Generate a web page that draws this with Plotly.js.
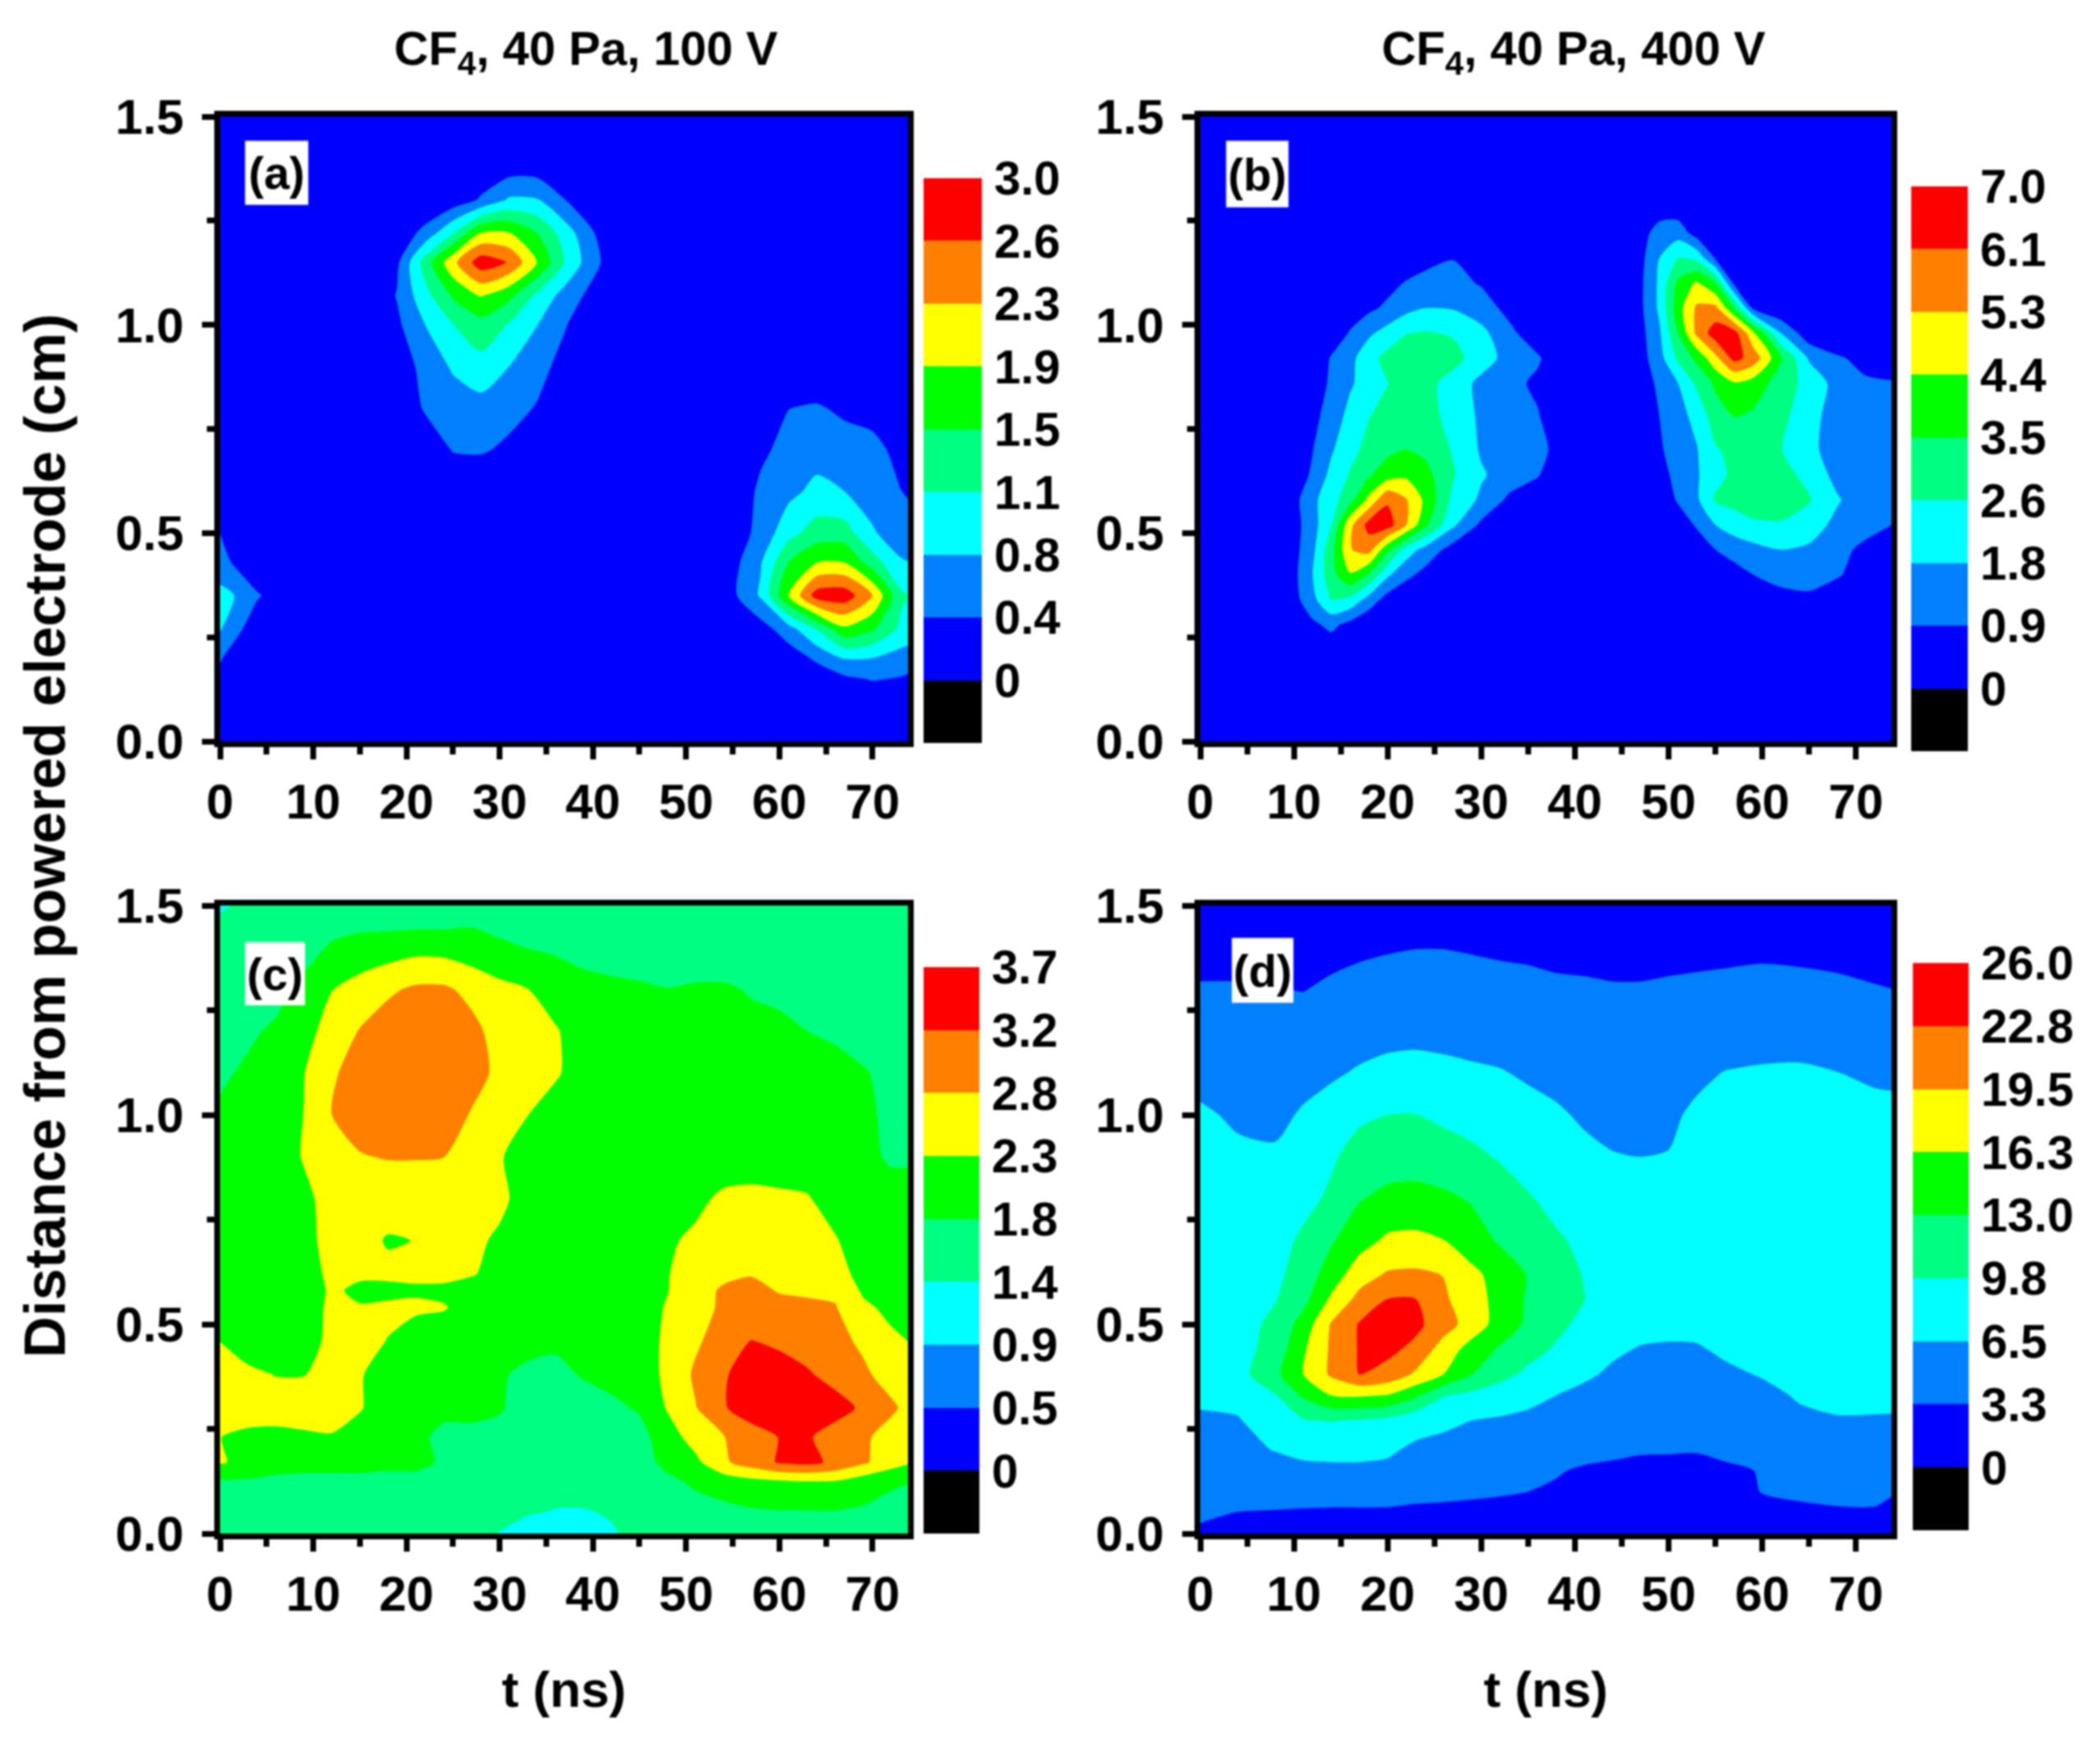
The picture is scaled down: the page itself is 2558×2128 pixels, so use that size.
<!DOCTYPE html>
<html><head><meta charset="utf-8">
<script src="https://cdn.plot.ly/plotly-3.0.1.min.js"></script>
<style>html,body{margin:0;padding:0;background:#fff}#chart{width:2558px;height:2128px;filter:blur(1px)}</style>
</head><body><div id="chart"></div>
<script>
const bandColors = ['#000000','#0000ff','#0080ff','#00ffff','#00ff80','#00ff00','#ffff00','#ff8000','#ff0000'];
const bandIndex = [0,1,2,3,4,5,6,7,8];

const titleLeft = 'CF<sub>4</sub>, 40 Pa, 100 V';
const titleRight = 'CF<sub>4</sub>, 40 Pa, 400 V';
const yTitle = 'Distance from powered electrode (cm)';
const xTitle = 't (ns)';

const ticksA = ['0','0.4','0.8','1.1','1.5','1.9','2.3','2.6','3.0'];
const ticksB = ['0','0.9','1.8','2.6','3.5','4.4','5.3','6.1','7.0'];
const ticksC = ['0','0.5','0.9','1.4','1.8','2.3','2.8','3.2','3.7'];
const ticksD = ['0','3.3','6.5','9.8','13.0','16.3','19.5','22.8','26.0'];

const tA = [0,2,4,8,16,19,22,25,28,31,34,37,40,43,52,55,58,61,64,67,70,73,74];
const yA = [0,.1,.15,.2,.27,.35,.43,.5,.6,.7,.8,.9,1,1.07,1.15,1.22,1.3,1.4,1.5];
const zA = [
[.02,.02,.02,.02,.02,.02,.02,.02,.02,.02,.02,.02,.02,.02,.02,.02,.02,.02,.02,.02,.02,.02,.02],
[.02,.02,.02,.02,.02,.02,.02,.02,.02,.02,.02,.02,.02,.02,.02,.02,.02,.02,.05,.1,.12,.1,.08],
[.25,.05,.02,.02,.02,.02,.02,.02,.02,.02,.02,.02,.02,.02,.02,.02,.02,.03,.12,.3,.4,.35,.3],
[.42,.1,.02,.02,.02,.02,.02,.02,.02,.02,.02,.02,.02,.02,.02,.02,.03,.15,.45,.78,.75,.6,.55],
[.78,.45,.1,.02,.02,.02,.02,.02,.02,.02,.02,.02,.02,.02,.02,.02,.2,.6,1.15,1.8,1.55,1.05,1],
[.85,.72,.42,.02,.02,.02,.02,.02,.02,.02,.02,.02,.02,.02,.05,.3,.8,1.875,2.8,2.85,2.25,1.2,1.1],
[.55,.25,.02,.02,.02,.02,.02,.02,.02,.02,.02,.02,.02,.02,.02,.25,.72,1.5,1.86,1.86,1.3,.8,.75],
[.37,.1,.02,.02,.02,.02,.02,.02,.02,.02,.02,.02,.02,.02,.02,.15,.5,1,1.3,1.3,.8,.5,.45],
[.02,.02,.02,.02,.02,.02,.02,.02,.02,.02,.02,.02,.02,.02,.02,.1,.45,.65,.85,.75,.55,.38,.35],
[.02,.02,.02,.02,.02,.02,.1,.4,.42,.3,.1,.02,.02,.02,.02,.02,.3,.5,.6,.55,.45,.3,.2],
[.02,.02,.02,.02,.02,.05,.42,.55,.6,.5,.35,.1,.02,.02,.02,.02,.1,.37,.42,.3,.28,.05,.02],
[.02,.02,.02,.02,.02,.15,.5,.8,1,.75,.5,.25,.02,.02,.02,.02,.02,.02,.02,.02,.02,.02,.02],
[.02,.02,.02,.02,.02,.3,.75,1.12,1.35,1.1,.76,.4,.1,.02,.02,.02,.02,.02,.02,.02,.02,.02,.02],
[.02,.02,.02,.02,.05,.4,1,1.55,1.9,1.6,1.05,.6,.25,.02,.02,.02,.02,.02,.02,.02,.02,.02,.02],
[.02,.02,.02,.02,.05,.3,1.3,2.15,2.85,2.6,1.87,1.1,.5,.05,.02,.02,.02,.02,.02,.02,.02,.02,.02],
[.02,.02,.02,.02,.02,.1,.5,1.12,1.9,1.9,1.5,.95,.4,.02,.02,.02,.02,.02,.02,.02,.02,.02,.02],
[.02,.02,.02,.02,.02,.02,.02,.15,.42,.8,.78,.38,.05,.02,.02,.02,.02,.02,.02,.02,.02,.02,.02],
[.02,.02,.02,.02,.02,.02,.02,.02,.02,.02,.02,.02,.02,.02,.02,.02,.02,.02,.02,.02,.02,.02,.02],
[.02,.02,.02,.02,.02,.02,.02,.02,.02,.02,.02,.02,.02,.02,.02,.02,.02,.02,.02,.02,.02,.02,.02]
];

const tB = [0,9,12,14,16,18,20,22,24,27,30,33,36,39,46,49,51,53,55,57,59,62,65,68,71,74];
const yB = [0,.2,.28,.34,.4,.46,.52,.58,.64,.7,.78,.86,.92,.98,1.04,1.1,1.16,1.22,1.3,1.5];
const zB = [
[.05,.05,.05,.05,.05,.05,.05,.05,.05,.05,.05,.05,.05,.05,.05,.05,.05,.05,.05,.05,.05,.05,.05,.05,.05,.05],
[.05,.05,.05,.1,.05,.05,.05,.05,.05,.05,.05,.05,.05,.05,.05,.05,.05,.05,.05,.05,.05,.05,.05,.05,.05,.05],
[.05,.05,.7,1.1,.6,.1,.05,.05,.05,.05,.05,.05,.05,.05,.05,.05,.05,.05,.05,.05,.05,.05,.05,.05,.05,.05],
[.05,.1,1.5,2.65,2.4,1.4,.5,.1,.05,.05,.05,.05,.05,.05,.05,.05,.05,.05,.05,.05,.1,.55,.7,.4,.2,.05],
[.05,.1,1.75,3.2,4.3,3.4,1.9,1.1,.6,.1,.05,.05,.05,.05,.05,.05,.05,.05,.2,.55,.87,1.2,1.2,.95,.55,.3],
[.05,.1,1.55,3.2,5.2,5.6,3.7,2.2,1.45,.5,.1,.05,.05,.05,.05,.05,.05,.5,.87,1.2,1.45,1.75,1.6,1.1,.7,.5],
[.05,.1,1.4,2.6,5,6.45,6.55,5.25,3.7,1.9,.7,.1,.05,.05,.05,.05,.5,.95,1.75,2.2,2.5,2.55,2.2,1.5,1.15,.85],
[.05,.1,1.55,2.25,3.2,4.6,6,5.3,4.2,2.4,1.6,.7,.3,.05,.05,.4,.95,1.6,2.75,2.9,3,3,2.7,1.85,1.2,1.05],
[.05,.1,1,2,2.7,3.4,3.95,4.2,3.8,2.7,1.85,1.35,.95,.1,.05,.6,1.1,1.65,2.35,2.8,3,2.9,2.4,1.45,1.2,1.05],
[.05,.1,.85,1.65,2.35,2.9,3.3,3.5,3.3,2.55,1.65,1.3,1.05,.6,.05,.75,1.3,1.7,2.55,2.85,3,2.65,2,1.3,1.1,1],
[.05,.1,.6,1.3,2,2.6,2.9,3.1,3,2.3,1.6,1.2,.95,.1,.05,.87,1.45,2,3.1,3.5,3.35,2.85,2.1,1.3,1.15,1],
[.05,.05,.3,1.05,1.65,2.1,2.6,3,2.9,2.3,1.5,1.15,.7,.05,.1,1.05,1.75,2.8,3.65,4.3,4,3.1,2.3,1.45,1,.95],
[.05,.05,.2,.95,1.5,2.3,2.9,3.1,3.1,2.9,2.2,1.4,1,.1,.1,1.4,2.8,3.7,5,6.4,5.8,3.6,1.65,1,.6,.3],
[.05,.05,.05,.3,.95,1.6,2.1,2.6,2.7,2.55,2,1.1,.3,.05,.1,1.6,3.5,5.45,6.6,6.5,4.6,1.75,.3,.05,.05,.05],
[.05,.05,.05,.05,.4,.7,1.05,1.5,1.75,1.7,1.3,.6,.05,.05,.1,1.9,4,5.4,5.5,3.5,.8,.1,.05,.05,.05,.05],
[.05,.05,.05,.05,.05,.2,.6,.95,1.15,1.15,.8,.2,.05,.05,.1,1.9,3.7,4.5,3.5,.7,.1,.05,.05,.05,.05,.05],
[.05,.05,.05,.05,.05,.05,.05,.3,.6,.85,.3,.05,.05,.05,.05,1.75,2.65,2.4,.8,.1,.05,.05,.05,.05,.05,.05],
[.05,.05,.05,.05,.05,.05,.05,.05,.05,.05,.05,.05,.05,.05,.05,1.3,1.4,.5,.05,.05,.05,.05,.05,.05,.05,.05],
[.05,.05,.05,.05,.05,.05,.05,.05,.05,.05,.05,.05,.05,.05,.05,.1,.05,.05,.05,.05,.05,.05,.05,.05,.05,.05],
[.05,.05,.05,.05,.05,.05,.05,.05,.05,.05,.05,.05,.05,.05,.05,.05,.05,.05,.05,.05,.05,.05,.05,.05,.05,.05]
];

const tC = [0,3,6,9,12,15,18,21,24,27,30,33,36,39,42,45,48,51,54,57,60,63,66,69,72,74];
const yC = [0,.05,.12,.17,.23,.3,.38,.46,.54,.58,.62,.7,.8,.9,1,1.1,1.2,1.3,1.38,1.45,1.5];
const zC = [
[1.55,1.55,1.55,1.55,1.55,1.5,1.5,1.5,1.5,1.45,1.38,1.2,1.1,1.15,1.35,1.5,1.6,1.6,1.65,1.7,1.7,1.7,1.7,1.65,1.6,1.6],
[1.6,1.6,1.6,1.6,1.6,1.55,1.55,1.55,1.5,1.5,1.45,1.42,1.36,1.36,1.42,1.5,1.65,1.7,1.75,1.8,1.82,1.82,1.82,1.8,1.7,1.65],
[1.75,1.75,1.75,1.75,1.75,1.75,1.7,1.7,1.65,1.6,1.6,1.55,1.55,1.55,1.6,1.65,1.75,1.9,2,2.1,2.15,2.2,2.2,2,1.9,1.85],
[2.35,2.2,2,1.95,1.95,1.95,1.95,1.95,1.8,1.75,1.7,1.65,1.6,1.65,1.65,1.7,1.95,2.2,2.7,3,3.28,3.35,3.15,2.85,2.5,2.35],
[2.32,2.2,2.2,2.25,2.28,2.1,2,1.9,1.8,1.8,1.75,1.7,1.65,1.7,1.7,1.7,2.1,2.5,2.75,3.05,3.25,3.3,3,2.85,2.6,2.5],
[2.6,2.55,2.5,2.5,2.5,2.35,2.05,1.95,1.9,1.9,1.88,1.7,1.6,1.6,1.75,1.9,2.35,2.75,3.2,3.45,3.5,3.5,3.45,3.15,2.85,2.65],
[2.7,2.4,2.3,2.3,2.5,2.35,2.1,2,1.95,1.95,1.9,1.75,1.7,1.9,2,2.1,2.4,2.85,3.2,3.4,3.45,3.3,3.05,2.85,2.6,2.5],
[2.3,2.1,1.95,2,2.5,2.45,2.3,2.05,2,2,2,2,1.95,2,2,2.1,2.4,2.7,3,3.25,3.15,3,2.9,2.7,2.4,2.3],
[2,1.95,1.9,2,2.45,2.35,2.4,2.4,2.35,2.1,2.05,2.05,2.05,2.05,2.05,2.1,2.35,2.6,2.85,2.95,2.9,2.85,2.8,2.4,2.2,2.1],
[1.95,1.9,1.9,2,2.4,2.2,2.2,2.25,2.2,2.1,2.05,2.05,2.05,2.05,2.05,2.1,2.3,2.55,2.85,2.9,2.75,2.72,2.7,2.25,2.1,2.05],
[1.95,1.95,1.95,2.05,2.45,2.4,2.4,2.4,2.45,2.35,2.15,2.05,2.05,2.05,2.05,2.1,2.3,2.45,2.65,2.75,2.65,2.55,2.45,2.2,2.05,2],
[1.95,1.95,1.95,2.1,2.55,2.45,2.28,2.32,2.5,2.4,2.25,2.05,2.05,2.05,2.05,2.05,2.25,2.4,2.45,2.5,2.5,2.45,2.35,2.05,2,2],
[1.9,1.95,2,2.2,2.5,2.5,2.5,2.5,2.5,2.45,2.4,2.15,2.05,2.05,2.05,2.05,2.05,2.2,2.4,2.45,2.4,2.35,2.1,2.05,2,2],
[1.85,1.95,2.05,2.35,2.6,2.75,2.8,2.8,2.78,2.6,2.35,2.1,2.05,2.05,2.05,2.05,2.05,2.05,2.05,2.05,2.05,2.05,2.05,1.95,1.8,1.8],
[1.9,1.95,2.05,2.32,2.78,2.95,3,3,2.95,2.75,2.5,2.32,2.05,2,2,2,2,2,2,2,2,2,2,1.9,1.8,1.75],
[1.8,1.9,2,2.3,2.72,2.95,3.05,3.05,3,2.9,2.7,2.5,2.38,2.05,2,2,2,2,2,2,2,2,1.95,1.88,1.75,1.7],
[1.7,1.8,1.9,2.15,2.5,2.8,3,3.05,3,2.9,2.6,2.4,2.35,2.1,2,1.98,1.95,1.95,1.95,1.95,1.9,1.85,1.8,1.7,1.65,1.6],
[1.6,1.65,1.75,1.95,2.3,2.5,2.7,2.85,2.85,2.65,2.45,2.32,2.1,2,1.95,1.9,1.86,1.9,1.9,1.82,1.8,1.75,1.72,1.68,1.65,1.6],
[1.5,1.55,1.6,1.75,1.95,2.1,2.2,2.3,2.28,2.15,2,1.9,1.85,1.75,1.7,1.7,1.65,1.65,1.65,1.65,1.6,1.6,1.6,1.6,1.55,1.55],
[1.45,1.5,1.5,1.6,1.75,1.78,1.78,1.8,1.8,1.84,1.75,1.7,1.65,1.6,1.6,1.6,1.55,1.55,1.55,1.55,1.55,1.55,1.55,1.55,1.5,1.5],
[1.35,1.45,1.5,1.5,1.55,1.6,1.6,1.6,1.6,1.65,1.6,1.55,1.55,1.5,1.5,1.5,1.5,1.5,1.5,1.5,1.5,1.5,1.5,1.5,1.5,1.5]
];

const tD = [0,4,8,11,14,17,20,23,26,29,32,35,38,41,44,47,50,53,56,60,64,68,72,74];
const yD = [0,.05,.1,.15,.2,.27,.33,.38,.44,.5,.56,.62,.7,.8,.9,1,1.1,1.2,1.3,1.4,1.5];
const zD = [
[2.5,2.4,2.3,2.2,2.2,2.2,2.2,2.1,2,2,2,1.9,1.8,1.8,1.8,1.8,1.8,1.8,1.8,1.9,2,2.1,2.2,2.2],
[4,3.2,3.1,3,2.9,2.9,2.9,2.7,2.6,2.5,2.4,2.3,2.2,2.1,2.1,2,2,2,2.1,2.3,2.6,2.9,3.1,3],
[4.5,4.2,4.2,4.2,4.3,4.3,4.2,4,3.9,3.7,3.5,3.25,3,3.1,2.8,2.5,2.4,2.4,2.8,3.3,3.8,4,3.6,3.3],
[5,5,5.5,5.9,6,6,5.9,5.6,5.2,4.8,4.4,4,3.4,3,2.9,2.8,2.7,2.7,2.9,3.35,4,4.4,4.3,4.3],
[5.6,5.8,6.6,7.1,7.2,7.2,6.9,6,5.6,5.3,5,4.8,4.3,3.9,3.6,3.4,3.4,3.35,3.7,4.1,4.8,5,5,5],
[6.2,6.3,8,9.5,9.9,9.5,8.9,7.6,7.1,6.5,6.2,5.7,5.2,4.8,4.6,4.3,4.2,4.2,4.7,5.2,5.9,6.3,6.3,6.3],
[6.9,7.3,9.6,13.5,16.3,16.6,16.1,13.6,9.9,9,8,7.5,6.5,5.7,5,4.8,4.6,4.6,5,5.7,6.8,7.2,7.1,7],
[7.2,8.6,12.2,16.3,20,22.8,21.7,19,16.2,13,10.8,9,8,7,6,5.7,5.5,5.5,5.9,6.7,7.4,7.5,7.4,7.3],
[7.5,8.5,11,15.8,20,23,23.5,22,18,15,12.6,11,9.4,8.3,7,6.3,6.1,6.2,7,7.5,7.8,7.8,7.8,7.8],
[7.8,8.5,10.5,14.3,19.8,23,24,23.5,21,18,15,12.4,10.5,9,8,7.5,7.4,7.4,7.8,8,8.2,8.2,8.2,8.2],
[8,8.5,9.6,12,16.8,20.5,22.8,22.8,20,17.6,15.2,12.6,11,9.8,8.7,8.2,8.2,8.3,8.4,8.4,8.4,8.4,8.4,8.4],
[8,8.4,9,11.2,14.5,18,19.8,20,19.4,17,15,12.8,11,9.6,8.8,8.5,8.5,8.5,8.5,8.5,8.5,8.5,8.5,8.5],
[8,8.3,8.8,10.2,12.7,15,16.8,17,16.3,14.5,12.6,11.4,10.1,9.2,8.7,8.5,8.5,8.5,8.5,8.5,8.5,8.5,8.5,8.5],
[7.9,8,8.4,9,10.2,12.8,13.8,14,13.6,12.7,11.2,10,9,8.5,8,7.9,7.9,8,8.1,8.2,8.2,8.2,8.2,8.2],
[7.5,7,7,8,9.4,10.8,11.5,11.6,11,10.4,9.5,8.6,7.9,7.2,6.65,6.5,6.6,7.4,7.7,8,8,8,7.9,7.9],
[6.9,6.1,5.6,6.9,8.1,9.3,9.75,9.8,9.2,8.6,8,7.5,6.9,6.1,5.6,5.4,6,7,7.4,7.7,7.8,7.6,7.4,7.3],
[5.6,5,4.8,5.3,6,6.9,7.4,7.5,7.3,7,6.7,6.1,5.6,5.2,4.8,4.7,5,5.9,6.6,6.9,7,6.55,6,5.9],
[3.8,3.9,3.9,4,4.4,4.9,5.5,5.7,5.5,5.2,5,4.8,4.5,4.3,4,4,4.2,4.5,4.8,5,5,4.7,4.2,4.1],
[3.4,3.4,3.3,3.2,3.5,3.8,4,4.3,4.3,4.2,4,3.8,3.6,3.5,3.4,3.4,3.5,3.6,3.7,3.8,3.7,3.6,3.35,3.25],
[2.6,2.6,2.6,2.6,2.8,2.95,3.1,3.2,3.2,3.05,2.9,2.85,2.7,2.7,2.6,2.6,2.7,2.75,2.8,2.9,2.85,2.7,2.6,2.5],
[2.2,2.2,2.2,2.2,2.2,2.2,2.2,2.3,2.3,2.2,2.2,2.2,2.2,2.2,2.2,2.2,2.2,2.2,2.2,2.2,2.2,2.2,2.2,2.2]
];

const W = 2558, H = 2128;
const fx = p => p / W, fy = p => 1 - p / H;
const colorscale = bandColors.map((c, i) => [i / 8, c]);
const FONT = 'Liberation Sans, Arial, sans-serif';

const panels = [
  {name:'a', t:tA, y:yA, z:zA, zmax:3,  labels:ticksA, box:[268,1106,142,903],  bar:[1125,217,71,688], tag:[298,171,76,77]},
  {name:'b', t:tB, y:yB, z:zB, zmax:7,  labels:ticksB, box:[1462,2304,142,903], bar:[2328,227,69,688], tag:[1493,171,75,80]},
  {name:'c', t:tC, y:yC, z:zC, zmax:3.7,labels:ticksC, box:[268,1106,1103,1868],bar:[1125,1178,68,690],tag:[298,1147,72,76]},
  {name:'d', t:tD, y:yD, z:zD, zmax:26, labels:ticksD, box:[1462,2304,1103,1868],bar:[2330,1173,68,691],tag:[1500,1142,74,78]}
];

const data = [], layout = {
  width:W, height:H, margin:{l:0,r:0,t:0,b:0}, paper_bgcolor:'#fff', plot_bgcolor:'#fff',
  showlegend:false, font:{family:FONT, color:'#000'}, annotations:[]
};

panels.forEach((p, i) => {
  const n = i + 1, sfx = i ? String(n) : '';
  const barX = 'x' + (n + 4), barY = 'y' + (n + 4);
  const barXKey = 'xaxis' + (n + 4), barYKey = 'yaxis' + (n + 4);
  const step = p.zmax / 8;
  const levels = p.labels.map((_, k) => k * step);
  data.push({
    type:'contour', x:p.t, y:p.y, z:p.z, xaxis:'x'+sfx, yaxis:'y'+sfx,
    autocontour:false, colorscale:colorscale, showscale:false,
    contours:{start:0, end:step*7, size:step, coloring:'fill', showlines:false},
    line:{width:0, smoothing:0.7}, hoverinfo:'skip'
  });
  data.push({
    type:'heatmap', xaxis:barX, yaxis:barY, x:[0,1], y:[-step].concat(levels),
    z:bandIndex.map(b => [b]), zmin:0, zmax:8, colorscale:colorscale, showscale:false, hoverinfo:'skip'
  });
  layout[barXKey] = {domain:[fx(p.bar[0]), fx(p.bar[0]+p.bar[2])], anchor:barY, visible:false, range:[0,1], fixedrange:true};
  layout[barYKey] = {
    domain:[fy(p.bar[1]+p.bar[3]), fy(p.bar[1])], anchor:barX, side:'right', range:[-step, p.zmax], autorange:false,
    showgrid:false, zeroline:false, showline:false, ticks:'',
    tickmode:'array', tickvals:levels, ticktext:p.labels, ticklabelstandoff:14,
    tickfont:{family:FONT, size:58, weight:700, color:'#000'}
  };
  const baseAxis = {
    showgrid:false, zeroline:false, showline:true, mirror:true, linecolor:'#000', linewidth:7,
    ticks:'outside', tickcolor:'#000', tickwidth:7, ticklen:15,
    tickfont:{family:FONT, size:60, weight:700, color:'#000'}
  };
  layout['xaxis'+sfx] = Object.assign({}, baseAxis, {
    domain:[fx(p.box[0]), fx(p.box[1])], anchor:'y'+sfx, range:[0,73.8], autorange:false,
    tickmode:'array', tickvals:[0,10,20,30,40,50,60,70], ticktext:['0','10','20','30','40','50','60','70'],
    minor:{tickmode:'array', tickvals:[5,15,25,35,45,55,65], ticks:'outside', ticklen:9, tickwidth:7, tickcolor:'#000'},
    ticklabelstandoff:0
  });
  if (i >= 2) layout['xaxis'+sfx].title = {text:xTitle, standoff:64, font:{family:FONT, size:62, weight:700, color:'#000'}};
  layout['yaxis'+sfx] = Object.assign({}, baseAxis, {
    domain:[fy(p.box[3]), fy(p.box[2])], anchor:'x'+sfx, range:[0,1.5], autorange:false,
    tickmode:'array', tickvals:[0,.5,1,1.5], ticktext:['0.0','0.5','1.0','1.5'],
    minor:{tickmode:'array', tickvals:[.25,.75,1.25], ticks:'outside', ticklen:9, tickwidth:7, tickcolor:'#000'},
    ticklabelstandoff:10
  });
  layout.annotations.push({
    xref:'paper', yref:'paper', x:fx(p.tag[0]), y:fy(p.tag[1]), xanchor:'left', yanchor:'top',
    width:p.tag[2], height:p.tag[3], bgcolor:'#fff', borderpad:0, showarrow:false,
    text:'('+p.name+')', font:{family:FONT, size:56, weight:700, color:'#000'}
  });
});

layout.annotations.push(
  {xref:'paper', yref:'paper', x:fx(714), y:fy(63), xanchor:'center', yanchor:'middle', showarrow:false,
   text:titleLeft, font:{family:FONT, size:58, weight:700, color:'#000'}},
  {xref:'paper', yref:'paper', x:fx(1917), y:fy(63), xanchor:'center', yanchor:'middle', showarrow:false,
   text:titleRight, font:{family:FONT, size:58, weight:700, color:'#000'}},
  {xref:'paper', yref:'paper', x:fx(55), y:fy(1018), xanchor:'center', yanchor:'middle', showarrow:false, textangle:-90,
   text:yTitle, font:{family:FONT, size:70, weight:700, color:'#000'}}
);

Plotly.newPlot('chart', data, layout, {staticPlot:true, displayModeBar:false});
</script></body></html>
